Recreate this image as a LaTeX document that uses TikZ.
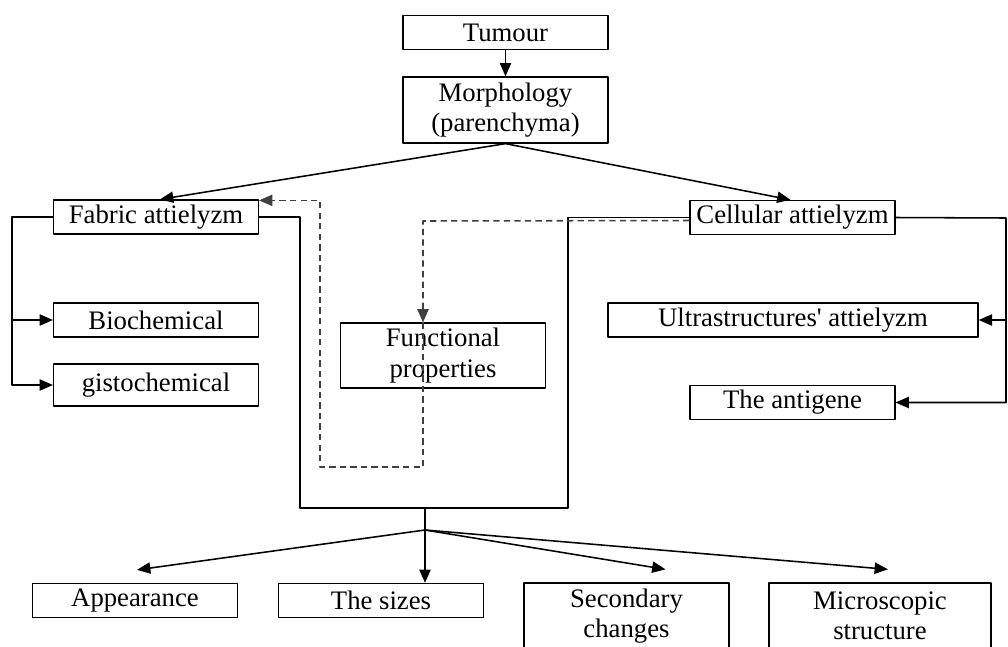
\documentclass[tikz,border=0pt]{standalone}
\usepackage{fontspec}
\setmainfont{Liberation Serif}
\usetikzlibrary{calc,arrows.meta}

\begin{document}
\begin{tikzpicture}[x=0.025cm, y=-0.025cm, line join=round,
    box/.style={draw, line width=0.9pt, minimum width=5.12cm, minimum height=0.85cm,
      inner sep=1pt, align=center, font=\fontsize{19}{21.5}\selectfont},
    wire/.style={line width=1.1pt},
    link/.style={wire, -{Triangle[length=9.5pt,width=8pt]}},
    dashlink/.style={link, black!75, dash pattern=on 4.5pt off 3pt}]
    \useasboundingbox (0,0) rectangle (1008,646);
    \clip (0,0) rectangle (1008,646);
    \node[box] (tum) at (505.5,32.5) {Tumour};
    \node[box, minimum height=1.65cm] (mor) at (505.5,110) {Morphology\\(parenchyma)};
    \node[box] (fab) at (156,217) {Fabric attielyzm};
    \node[box] (bio) at (156,320) {Biochemical};
    \node[box, minimum height=1.05cm] (gis) at (156,385) {gistochemical};
    \node[box] (cel) at (792.5,217.5) {Cellular attielyzm};
    \node[box, minimum width=9.25cm] (ult) at (793,320) {Ultrastructures\textquotesingle\ attielyzm};
    \node[box] (ant) at (792.5,402.5) {The antigene};
    \node[box, minimum height=1.62cm] (fun) at (443,355.5) {Functional\\properties};
    \node[box] (app) at (135,600.5) {Appearance};
    \node[box] (siz) at (381,600.5) {The sizes};
    \node[box, minimum height=1.65cm] (sec) at (626.5,616) {Secondary\\changes};
    \node[box, minimum width=5.55cm, minimum height=1.65cm] (mic) at (880,616) {Microscopic\\structure};
    \coordinate (lb) at (12,217);
    \coordinate (rb) at (1006,218);
    \coordinate (lh) at (300,508);
    \coordinate (rh) at (568,508);
    \coordinate (hub) at (425,508);
    \coordinate (fork) at (425,530);
    \coordinate (dtop) at (423,221);
    \coordinate (dbot) at (423,467);
    \coordinate (dleft) at (320,467);
    \draw[link] (tum) -- (mor);
    \draw[link] (mor.south) -- ($(fab.north)+(4,0)$);
    \draw[link] (mor.south) -- ($(cel.north)+(-2,0)$);
    % side brackets
    \draw[link] (fab.west) -- (lb) |- (gis.west);
    \draw[link] (lb |- bio.west) -- (bio.west);
    \draw[link] (cel.east) -- (rb) |- (ant.east);
    \draw[link] (rb |- ult.east) -- (ult.east);
    % collector to the bottom row
    \draw[wire] (fab.east) -| (lh) -- (rh) |- (cel.west);
    \draw[wire] (hub) -- (fork);
    \draw[link] (fork) -- ($(app.north)+(2,-13)$);
    \draw[link] (fork) -- (fork |- siz.north);
    \draw[link] (fork) -- ($(sec.north)+(39,-13)$);
    \draw[link] (fork) -- ($(mic.north)+(8,-13)$);
    % dashed feedback
    \draw[dashlink] ($(cel.west)+(0,3)$) -- (dtop) -- (dtop |- fun.north);
    \draw[dashlink] (dtop |- fun.north) -- (dbot) -- (dleft) |- ($(fab.north east)+(0,1)$);
\end{tikzpicture}
\end{document}
